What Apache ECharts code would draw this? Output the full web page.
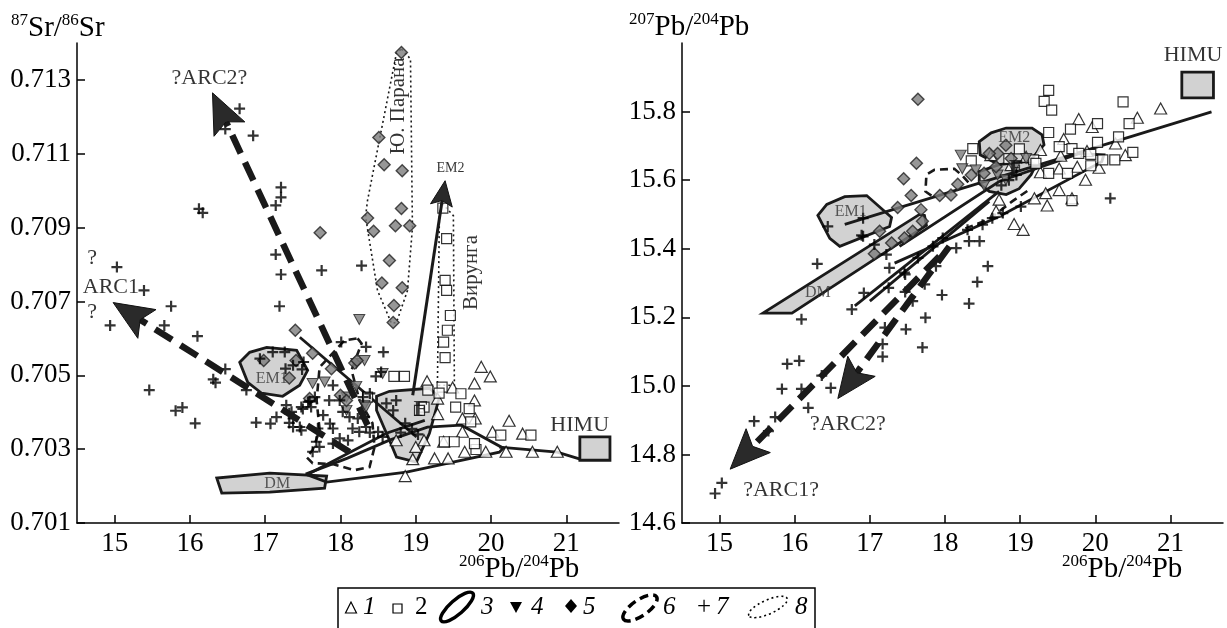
<!DOCTYPE html>
<html><head><meta charset="utf-8">
<script src="https://cdn.jsdelivr.net/npm/echarts@6/dist/echarts.min.js"></script>
<style>html,body{margin:0;padding:0;background:#fff}#c{width:1227px;height:628px}</style>
</head><body><div id="c"></div>
<script>
// ---------- tick values ----------
const xTicks = [15, 16, 17, 18, 19, 20, 21];
const srTicks = [0.701, 0.703, 0.705, 0.707, 0.709, 0.711, 0.713];
const pb7Ticks = [14.6, 14.8, 15.0, 15.2, 15.4, 15.6, 15.8];

// ---------- LEFT panel: 206Pb/204Pb vs 87Sr/86Sr ----------
const L_tri = [[19.87,0.70523],[19.99,0.70497],[19.15,0.70484],[19.49,0.70467],[19.78,0.70478],[19.29,0.70437],[19.78,0.70432],[19.79,0.70383],[19.62,0.70383],[19.29,0.70395],[20.24,0.70377],[20.02,0.70347],[20.42,0.70342],[20.55,0.70293],[20.88,0.70293],[20.20,0.70293],[19.93,0.70293],[19.65,0.70293],[19.37,0.70320],[19.62,0.70347],[19.25,0.70275],[19.43,0.70275],[18.96,0.70273],[18.86,0.70227],[18.74,0.70324],[19.00,0.70306],[19.11,0.70324]];
const L_sq = [[19.36,0.70953],[19.41,0.70870],[19.39,0.70757],[19.41,0.70730],[19.46,0.70662],[19.42,0.70622],[19.37,0.70590],[19.39,0.70548],[19.35,0.70468],[19.60,0.70450],[19.53,0.70414],[19.71,0.70410],[18.71,0.70497],[18.85,0.70497],[19.16,0.70460],[19.31,0.70452],[19.11,0.70414],[18.36,0.70441],[19.51,0.70320],[19.80,0.70299],[20.13,0.70338],[20.53,0.70338],[19.73,0.70374],[19.05,0.70405],[19.38,0.70320],[19.78,0.70315]];
const L_inv = [[18.25,0.70651],[17.63,0.70478],[17.79,0.70482],[18.56,0.70505],[18.21,0.70470],[18.32,0.70419],[18.08,0.70441],[18.21,0.70532],[18.32,0.70540],[18.34,0.70414],[18.08,0.70405]];
const L_dia = [[18.81,0.71374],[18.51,0.71144],[18.58,0.71070],[18.82,0.71054],[18.81,0.70952],[18.36,0.70926],[18.44,0.70890],[18.73,0.70905],[18.92,0.70905],[17.73,0.70886],[18.65,0.70811],[18.55,0.70750],[18.82,0.70737],[18.71,0.70689],[18.70,0.70643],[17.40,0.70622],[17.63,0.70560],[18.19,0.70533],[18.22,0.70540],[17.88,0.70518],[18.00,0.70446],[18.08,0.70432],[17.41,0.70540],[17.32,0.70493],[16.98,0.70540],[17.59,0.70437]];
const L_plus = [[16.66,0.71222],[16.47,0.71167],[16.84,0.71149],[17.21,0.71009],[17.21,0.70982],[17.14,0.70960],[16.12,0.70951],[16.17,0.70940],[17.14,0.70827],[17.21,0.70773],[15.03,0.70793],[15.39,0.70730],[17.75,0.70784],[18.28,0.70797],[15.75,0.70687],[14.94,0.70635],[15.66,0.70635],[16.10,0.70606],[17.19,0.70687],[15.46,0.70460],[15.81,0.70404],[15.90,0.70413],[16.07,0.70370],[16.31,0.70489],[16.34,0.70480],[16.47,0.70517],[16.75,0.70460],[16.93,0.70545],[17.10,0.70563],[17.26,0.70563],[17.27,0.70518],[17.37,0.70527],[17.49,0.70516],[17.51,0.70536],[17.28,0.70419],[17.35,0.70401],[17.48,0.70414],[17.59,0.70430],[17.66,0.70441],[16.88,0.70372],[17.07,0.70369],[17.15,0.70387],[17.32,0.70371],[17.37,0.70360],[17.48,0.70351],[18.01,0.70590],[18.34,0.70577],[18.57,0.70563],[18.54,0.70509],[18.47,0.70497],[17.90,0.70473],[17.57,0.70428],[17.85,0.70432],[17.99,0.70432],[17.50,0.70409],[17.61,0.70414],[17.32,0.70397],[17.37,0.70383],[17.46,0.70360],[17.77,0.70392],[17.86,0.70369],[17.90,0.70356],[17.70,0.70356],[18.03,0.70401],[18.12,0.70387],[18.23,0.70383],[18.32,0.70387],[18.16,0.70356],[18.25,0.70347],[18.34,0.70360],[18.39,0.70345],[17.68,0.70320],[17.72,0.70306],[17.63,0.70293],[17.99,0.70329],[18.10,0.70324],[17.90,0.70315],[18.50,0.70347],[18.56,0.70333],[18.61,0.70424],[18.70,0.70405],[18.74,0.70432],[18.30,0.70441],[18.39,0.70451],[18.86,0.70370],[18.95,0.70355],[19.03,0.70340],[18.80,0.70345]];

// fields (outlines) - left
const L_EM1 = [[16.662,0.705351],[16.794,0.705622],[17.020,0.705757],[17.418,0.705676],[17.564,0.705135],[17.458,0.704730],[17.232,0.704432],[16.954,0.704514],[16.768,0.704811]];
const L_DM = [[16.357,0.702216],[16.423,0.701811],[17.060,0.701838],[17.789,0.701946],[17.816,0.702270],[17.060,0.702351]];
const L_F = [[18.479,0.704432],[18.651,0.704568],[19.182,0.704649],[19.314,0.704405],[19.182,0.703432],[19.009,0.702649],[18.744,0.702784],[18.651,0.703243],[18.479,0.704054]];
const L_HIMU = [[21.18,0.70270],[21.58,0.70270],[21.58,0.70333],[21.18,0.70333]];
const L_lens = [[17.537,0.702324],[17.816,0.702108],[18.877,0.702378],[20.110,0.702919],[20.163,0.703027],[19.606,0.703649],[19.155,0.703595],[18.651,0.703243],[18.094,0.702757],[17.537,0.702324]];
const L_himuLine = [[20.110,0.703054],[20.879,0.702919],[21.184,0.702730]];
const L_line1 = [[17.46,0.706030],[19.01,0.703330]];
const L_line2 = [[17.55,0.702300],[18.61,0.703430],[19.12,0.703780]];
const L_dash6 = [[18.227,0.706001],[18.280,0.705865],[18.147,0.705136],[18.253,0.704325],[18.425,0.703703],[18.452,0.703054],[18.386,0.702514],[18.187,0.702432],[17.895,0.702595],[17.630,0.702622],[17.550,0.702784],[17.630,0.702973],[17.723,0.703514],[17.683,0.704325],[17.723,0.705217],[18.054,0.705947]];
const L_parana = [[18.810,0.713838],[18.930,0.713568],[18.956,0.709000],[18.890,0.707297],[18.744,0.706432],[18.678,0.706405],[18.492,0.707297],[18.333,0.709297],[18.359,0.709730],[18.744,0.713730]];
const L_virunga = [[19.354,0.709649],[19.500,0.709324],[19.513,0.704730],[19.288,0.704730],[19.314,0.709324]];
// arrows [start, tip]
const L_arc1 = [[18.12,0.702920],[14.98,0.706970]];
const L_arc2 = [[18.36,0.703650],[16.30,0.712650]];
const L_em2 = [[18.96,0.704460],[19.39,0.710270]];
// annotations
const L_labelText = ['?ARC2?', '?', 'ARC1', '?', 'EM1', 'DM', 'F', 'EM2', 'HIMU', 'Ю. Парана', 'Вирунга'];
const L_labelPos = [[16.26,0.713054],[14.70,0.708162],[14.95,0.707378],[14.70,0.706703],[17.086,0.704905],[17.16,0.702068],[19.069,0.704054],[19.46,0.710595],[21.178,0.703649],[18.771,0.712297],[19.745,0.707784]];
const L_labelRole = ['big','big','big','big','field','field','bold','tiny','big','rot','rot'];

// ---------- RIGHT panel: 206Pb/204Pb vs 207Pb/204Pb ----------
const R_tri = [[20.87,15.809],[20.56,15.782],[19.96,15.755],[19.78,15.778],[19.58,15.720],[19.27,15.688],[19.54,15.671],[19.89,15.685],[20.27,15.707],[20.40,15.673],[20.05,15.636],[19.76,15.639],[19.52,15.634],[19.27,15.623],[19.08,15.668],[18.88,15.644],[18.61,15.673],[19.87,15.601],[19.52,15.571],[19.34,15.562],[19.19,15.547],[19.36,15.526],[19.69,15.547],[18.72,15.543],[18.92,15.472],[19.04,15.455],[18.68,15.509]];
const R_sq = [[19.38,15.862],[19.32,15.830],[19.42,15.804],[20.37,15.828],[20.45,15.765],[20.03,15.765],[19.67,15.749],[19.38,15.739],[20.03,15.710],[20.31,15.726],[19.52,15.698],[19.69,15.692],[19.78,15.678],[19.94,15.675],[20.50,15.681],[20.26,15.659],[20.10,15.659],[18.37,15.692],[18.35,15.656],[18.99,15.691],[19.18,15.659],[19.38,15.620],[19.63,15.620],[19.94,15.642],[19.69,15.540],[18.85,15.663],[19.21,15.649]];
const R_inv = [[18.21,15.673],[18.23,15.633],[18.41,15.630],[18.70,15.615],[18.81,15.601],[18.92,15.634],[19.08,15.663],[18.52,15.584]];
const R_dia = [[17.64,15.836],[17.62,15.649],[17.45,15.604],[17.55,15.555],[17.37,15.520],[17.68,15.514],[17.13,15.451],[17.29,15.417],[17.06,15.385],[17.46,15.431],[17.57,15.451],[17.70,15.480],[17.93,15.555],[18.08,15.557],[18.17,15.588],[18.35,15.615],[18.52,15.620],[18.68,15.639],[18.70,15.678],[18.81,15.702],[18.59,15.678],[18.88,15.663]];
const R_plus = [[14.94,14.686],[15.03,14.717],[15.46,14.897],[15.65,14.868],[15.74,14.909],[15.83,14.991],[15.90,15.064],[16.06,15.073],[16.09,14.991],[16.18,14.936],[16.36,15.030],[16.48,14.994],[16.09,15.194],[16.76,15.223],[16.92,15.271],[17.25,15.286],[17.47,15.274],[17.47,15.325],[17.57,15.247],[17.20,15.170],[17.17,15.122],[17.17,15.085],[17.48,15.165],[17.73,15.296],[17.96,15.265],[18.43,15.303],[18.32,15.240],[17.74,15.199],[17.70,15.112],[16.44,15.465],[16.30,15.356],[18.57,15.349],[17.26,15.344],[17.46,15.330],[17.64,15.373],[17.88,15.349],[16.89,15.439],[17.06,15.412],[17.22,15.383],[17.84,15.407],[17.97,15.431],[18.15,15.402],[18.32,15.422],[18.46,15.422],[18.30,15.455],[18.50,15.470],[18.63,15.489],[18.77,15.504],[19.01,15.523],[16.91,15.489],[16.91,15.436],[20.20,15.547],[18.85,15.600],[18.95,15.615],[18.75,15.585]];

const R_EM1 = [[16.308,15.497],[16.427,15.529],[16.666,15.552],[16.958,15.555],[17.289,15.491],[17.263,15.465],[16.600,15.407],[16.467,15.430]];
const R_DM = [[15.578,15.212],[15.963,15.212],[17.753,15.468],[17.727,15.497],[17.661,15.500]];
const R_EM2 = [[18.456,15.712],[18.615,15.738],[18.814,15.752],[19.159,15.752],[19.292,15.732],[19.318,15.703],[19.119,15.654],[18.721,15.645],[18.469,15.674]];
const R_F = [[18.456,15.625],[18.721,15.645],[19.080,15.654],[19.212,15.645],[19.146,15.616],[18.987,15.575],[18.814,15.558],[18.589,15.567],[18.456,15.590]];
const R_HIMU = [[21.152,15.840],[21.573,15.840],[21.573,15.915],[21.152,15.915]];
const R_line1 = [[16.666,15.471],[21.547,15.799]];
const R_lens = [[17.329,15.358],[18.721,15.494],[20.087,15.654],[20.114,15.674],[19.783,15.677],[18.721,15.596],[17.395,15.407]];
const R_line2 = [[17.00,15.247],[18.59,15.538]];
const R_line3 = [[16.80,15.233],[18.72,15.567]];
const R_dash6a = [[17.820,15.555],[17.740,15.567],[17.753,15.616],[17.859,15.630],[18.125,15.633],[18.231,15.613],[18.324,15.590]];
const R_dash6b = [[18.271,15.459],[18.589,15.486],[18.894,15.538],[19.120,15.572]];
const R_arc1 = [[17.926,15.378],[15.141,14.757]];
const R_arc2 = [[18.059,15.407],[16.574,14.963]];
const R_labelText = ['?ARC2?', '?ARC1?', 'EM1', 'DM', 'EM2', 'F', 'HIMU'];
const R_labelPos = [[16.708,14.887],[15.818,14.696],[16.745,15.509],[16.308,15.271],[18.921,15.723],[18.947,15.633],[21.301,15.963]];
const R_labelRole = ['big','big','field','field','field','bold','big'];

// ---------- styles ----------
const FONT = '"Liberation Serif","Times New Roman",serif';
const PLUS = 'path://M4,0H6V4H10V6H6V10H4V6H0V4H4Z';
const FIELD = {fill:'#d2d2d2', stroke:'#1a1a1a', lineWidth:2.8};

function shapeSeries(g, pts, style, kind, z) {
  return {
    type:'custom', xAxisIndex:g, yAxisIndex:g, z:z, silent:true, clip:false,
    data: pts,
    renderItem: function (params, api) {
      if (params.dataIndex !== 0) return null;
      const p = pts.map(d => api.coord(d));
      return {type: kind, shape:{points:p}, style: Object.assign({}, style)};
    }
  };
}
function arrowSeries(g, pts, opt, z) {
  return {
    type:'custom', xAxisIndex:g, yAxisIndex:g, z:z, silent:true, clip:false,
    data: pts,
    renderItem: function (params, api) {
      if (params.dataIndex !== 0) return null;
      const a = api.coord(pts[0]), b = api.coord(pts[1]);
      const dx = b[0]-a[0], dy = b[1]-a[1], len = Math.hypot(dx, dy);
      const ux = dx/len, uy = dy/len, L = opt.headLen, W = opt.headW/2;
      const base = [b[0]-ux*L, b[1]-uy*L];
      const notch = [b[0]-ux*L*0.8, b[1]-uy*L*0.8];
      return {type:'group', children:[
        {type:'line', shape:{x1:a[0], y1:a[1], x2:notch[0], y2:notch[1]},
         style:{stroke:'#1a1a1a', lineWidth:opt.width, lineDash:opt.dash || null, fill:null}},
        {type:'polygon', shape:{points:[b, [base[0]-uy*W, base[1]+ux*W], notch, [base[0]+uy*W, base[1]-ux*W]]},
         style:{fill:'#2a2a2a', stroke:'#111', lineWidth:1}}
      ]};
    }
  };
}
function scatter(g, data, symbol, size, itemStyle, z, rotate) {
  return {type:'scatter', xAxisIndex:g, yAxisIndex:g, data:data, symbol:symbol, symbolSize:size,
    symbolRotate: rotate || 0, itemStyle:itemStyle, z:z, silent:true};
}
const roleStyle = {
  big:   {fontSize:22, color:'#000', fontFamily:FONT},
  field: {fontSize:16, color:'#333', fontFamily:FONT},
  tiny:  {fontSize:14, color:'#000', fontFamily:FONT},
  bold:  {fontSize:24, color:'#111', fontFamily:FONT, fontWeight:'bold'},
  rot:   {fontSize:21, color:'#000', fontFamily:FONT, rotate:90}
};
function labelSeries(g, texts, pos, roles) {
  return {type:'scatter', xAxisIndex:g, yAxisIndex:g, z:20, silent:true, symbolSize:1,
    itemStyle:{color:'transparent'},
    data: pos.map((p, i) => ({value:p, label:Object.assign({show:true, position:'inside', formatter:texts[i]}, roleStyle[roles[i]])}))
  };
}

const triStyle = {color:'#fff', borderColor:'#000', borderWidth:1.2};
const sqStyle = {color:'#fff', borderColor:'#000', borderWidth:1.2};
const invStyle = {color:'#7a7a7a', borderColor:'#222', borderWidth:1};
const diaStyle = {color:'#7d7d7d', borderColor:'#222', borderWidth:1.4};
const plusStyle = {color:'#000'};

function panelSeries(g, P) {
  return [
    ...P.fields.map(f => shapeSeries(g, f, FIELD, 'polygon', 1)),
    ...P.solid.map(f => shapeSeries(g, f, {stroke:'#1a1a1a', lineWidth:2.8, fill:null}, 'polyline', 2)),
    ...P.dashed.map(f => shapeSeries(g, f, {stroke:'#1a1a1a', lineWidth:2.6, lineDash:[8,5], fill:null}, P.dashedKind, 2)),
    ...P.dotted.map(f => shapeSeries(g, f, {stroke:'#1a1a1a', lineWidth:1.6, lineDash:[2,3], fill:null}, 'polygon', 2)),
    scatter(g, P.tri, 'triangle', [12,11], triStyle, 5),
    scatter(g, P.sq, 'rect', 10, sqStyle, 5),
    scatter(g, P.inv, 'triangle', [11,10], invStyle, 6, 180),
    scatter(g, P.dia, 'diamond', [12,12], diaStyle, 6),
    scatter(g, P.plus, PLUS, 11, plusStyle, 7),
    ...P.arrows.map(a => arrowSeries(g, a[0], a[1], 9)),
    labelSeries(g, P.texts, P.pos, P.roles)
  ];
}

const arcOpt = {width:6.5, dash:[20,10], headLen:40, headW:34};
const series = [
  ...panelSeries(0, {
    fields:[L_EM1, L_DM, L_F, L_HIMU],
    solid:[L_lens, L_himuLine, L_line1, L_line2],
    dashed:[L_dash6], dashedKind:'polygon',
    dotted:[L_parana, L_virunga],
    tri:L_tri, sq:L_sq, inv:L_inv, dia:L_dia, plus:L_plus,
    arrows:[[L_arc1, arcOpt],[L_arc2, arcOpt],[L_em2, {width:3, headLen:25, headW:22}]],
    texts:L_labelText, pos:L_labelPos, roles:L_labelRole
  }),
  ...panelSeries(1, {
    fields:[R_DM, R_EM1, R_EM2, R_F, R_HIMU],
    solid:[R_line1, R_lens, R_line2, R_line3],
    dashed:[R_dash6a, R_dash6b], dashedKind:'polyline',
    dotted:[],
    tri:R_tri, sq:R_sq, inv:R_inv, dia:R_dia, plus:R_plus,
    arrows:[[R_arc1, arcOpt],[R_arc2, arcOpt]],
    texts:R_labelText, pos:R_labelPos, roles:R_labelRole
  })
];

const axisCommon = {
  axisLine:{show:true, onZero:false, lineStyle:{color:'#000', width:1.5}},
  axisTick:{show:true, inside:true, length:8, lineStyle:{color:'#000', width:1.5}},
  splitLine:{show:false},
  axisLabel:{color:'#000', fontFamily:FONT, fontSize:27}
};
function xAx(g) {
  return Object.assign({}, axisCommon, {type:'value', gridIndex:g, min:14.5, max:21.7,
    axisTick:Object.assign({}, axisCommon.axisTick, {customValues:xTicks}),
    axisLabel:Object.assign({}, axisCommon.axisLabel, {customValues:xTicks, margin:7})});
}
function yAx(g, min, max, ticks, dec) {
  return Object.assign({}, axisCommon, {type:'value', gridIndex:g, min:min, max:max,
    axisTick:Object.assign({}, axisCommon.axisTick, {customValues:ticks}),
    axisLabel:Object.assign({}, axisCommon.axisLabel, {customValues:ticks, margin:6, formatter:v => v.toFixed(dec)})});
}

const supRich = {
  s:{fontSize:17, fontFamily:FONT, verticalAlign:'top', lineHeight:32},
  m:{fontSize:29, fontFamily:FONT, lineHeight:32}
};
const legendFont = 'italic 25px "Liberation Serif"';
function lt(x, t, font) { return {type:'text', x:x, y:607, z:100, style:{text:t, font:font || legendFont, fill:'#000', verticalAlign:'middle'}}; }

const option = {
  animation:false,
  backgroundColor:'#fff',
  grid:[
    {left:77, top:43, width:542, height:480},
    {left:682, top:43, width:541, height:480}
  ],
  xAxis:[xAx(0), xAx(1)],
  yAxis:[yAx(0, 0.701, 0.714, srTicks, 3), yAx(1, 14.6, 16.0, pb7Ticks, 1)],
  series: series,
  graphic:[
    {type:'text', x:11, y:12, style:{text:'{s|87}{m|Sr/}{s|86}{m|Sr}', rich:supRich, fill:'#000'}},
    {type:'text', x:629, y:11, style:{text:'{s|207}{m|Pb/}{s|204}{m|Pb}', rich:supRich, fill:'#000'}},
    {type:'text', x:459, y:553, style:{text:'{s|206}{m|Pb/}{s|204}{m|Pb}', rich:supRich, fill:'#000'}},
    {type:'text', x:1062, y:553, style:{text:'{s|206}{m|Pb/}{s|204}{m|Pb}', rich:supRich, fill:'#000'}},
    {type:'rect', shape:{x:338, y:588, width:477, height:60}, style:{fill:'#fff', stroke:'#000', lineWidth:1.5}, z:90},
    {type:'polygon', z:100, shape:{points:[[351,602],[345.5,613],[356.5,613]]}, style:{fill:'#fff', stroke:'#000', lineWidth:1.2}},
    lt(363,'1'),
    {type:'rect', z:100, shape:{x:393, y:604, width:9, height:9}, style:{fill:'#fff', stroke:'#000', lineWidth:1.2}},
    lt(415,'2','25px "Liberation Serif"'),
    {type:'ellipse', z:100, x:457, y:607, rotation:0.72, shape:{cx:0, cy:0, rx:21, ry:7}, style:{fill:'none', stroke:'#000', lineWidth:3.5}},
    lt(481,'3'),
    {type:'polygon', z:100, shape:{points:[[510,602],[522,602],[516,613]]}, style:{fill:'#000'}},
    lt(531,'4'),
    {type:'polygon', z:100, shape:{points:[[571,599],[577,606],[571,613],[565,606]]}, style:{fill:'#000'}},
    lt(583,'5'),
    {type:'ellipse', z:100, x:640, y:608, rotation:0.6, shape:{cx:0, cy:0, rx:20, ry:8}, style:{fill:'none', stroke:'#000', lineWidth:3.5, lineDash:[9,5]}},
    lt(663,'6'),
    lt(697,'+','25px "Liberation Serif"'),
    lt(716,'7'),
    {type:'ellipse', z:100, x:768, y:607, rotation:0.42, shape:{cx:0, cy:0, rx:21, ry:7}, style:{fill:'none', stroke:'#000', lineWidth:1.6, lineDash:[2,3]}},
    lt(795,'8')
  ]
};
const chart = echarts.init(document.getElementById('c'), null, {renderer:'canvas'});
chart.setOption(option);
</script></body></html>
